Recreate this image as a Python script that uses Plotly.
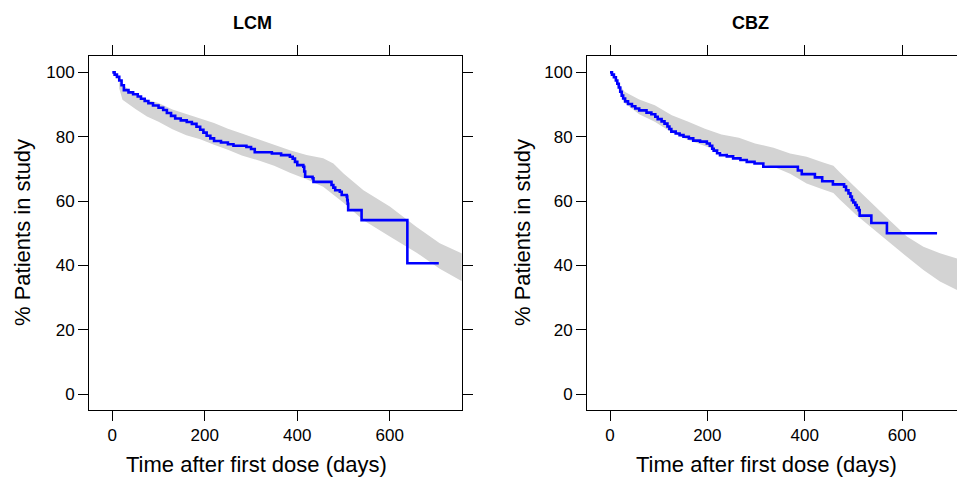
import plotly.graph_objects as go

# ---------------- data ----------------
panel_titles = ["LCM", "CBZ"]

lcm_t = [0, 5, 10, 15, 20, 25, 35, 45, 55, 62, 70, 78, 88, 100, 110, 118, 127, 136, 148, 161,
         172, 182, 190, 197, 204, 212, 220, 235, 250, 262, 290, 300, 308, 345, 365, 384, 390, 395, 400, 413,
         415, 417, 433, 435, 474, 478, 482, 492, 496, 507, 508, 509, 510, 539, 638, 706]
lcm_s = [100, 99.3, 98.6, 97.5, 96, 94.5, 93.8, 93.2, 92.5, 91.8, 91.1, 90.4, 89.7, 89, 88.3, 87.4, 86.5, 85.7, 85.1, 84.6,
         84, 83.1, 82.2, 81.3, 80.3, 79.5, 78.7, 78.2, 77.7, 77.2, 76.8, 76.2, 75.2, 74.8, 74.3, 73.8, 73.2, 72.2, 71.2, 70.7,
         69.2, 67.6, 67.1, 66.0, 65.0, 64.2, 63.4, 62.9, 61.9, 61.4, 60.3, 59.2, 57.2, 54.1, 40.7, 40.7]

lcm_band_t = [15, 22, 30, 50, 75, 100, 130, 160, 190, 220, 250, 280, 320, 350, 384, 420, 456, 478, 500, 543,
              600, 658, 708, 760]
lcm_upper = [97, 96.2, 95, 93, 91.5, 90.5, 88.5, 87, 85.7, 84.3, 82.5, 81, 79, 77.6, 75.8, 74.3, 73.3, 71.7, 68.6, 63.4,
             58.3, 52, 46.9, 43.5]
lcm_lower = [95, 91.5, 90.8, 88.6, 86.3, 84.7, 82.3, 80.5, 79.2, 77.5, 76, 74.2, 72.5, 71, 68.8, 66.8, 64.5, 62, 59.5, 54.1,
             49, 44, 39, 34.8]

cbz_t = [0, 4, 8, 12, 15, 18, 21, 24, 27, 31, 37, 45, 52, 60, 75, 85, 93, 98, 106, 112,
         118, 122, 126, 135, 143, 151, 162, 171, 185, 199, 205, 210, 213, 220, 226, 240, 253, 268, 281, 297,
         315, 386, 394, 421, 436, 458, 481, 485, 490, 494, 497, 500, 504, 507, 511, 513, 537, 569, 672]
cbz_s = [100, 99.3, 98.5, 97.5, 96.5, 95.3, 94, 92.8, 91.9, 91, 90.2, 89.5, 88.8, 88.2, 87.5, 87, 86.2, 85.5, 84.8, 84.1,
         83.2, 82.4, 81.6, 81, 80.5, 80, 79.5, 78.8, 78.5, 77.9, 77.2, 76.3, 75.7, 74.9, 74.3, 73.9, 73.3, 72.8, 72.2, 71.7,
         70.7, 69.5, 68.4, 67.4, 66.2, 65.2, 64.5, 63.4, 62.4, 61.4, 60.3, 59.6, 58.8, 58, 57.2, 55.5, 53.2, 50, 50]

cbz_band_t = [12, 20, 30, 60, 92, 127, 161, 195, 229, 265, 298, 336, 370, 404, 438, 459, 472, 506, 541, 575,
              610, 644, 678, 713, 760]
cbz_upper = [98, 96, 94, 91.6, 89.8, 86.7, 84.7, 82.5, 80.7, 79.7, 77.9, 76.6, 74.8, 73.8, 72, 71, 69, 64, 58.8, 54,
             49, 45.8, 43.8, 42.2, 40]
cbz_lower = [97, 94, 90.5, 87, 84.7, 81.3, 79, 77.1, 75.2, 73.5, 72, 70.7, 68.5, 65.5, 63.6, 62.5, 60.5, 55.7, 51.2, 47,
             42.7, 38.6, 35, 32.4, 29.5]

x_ticks = [0, 200, 400, 600]
y_ticks = [0, 20, 40, 60, 80, 100]
x_title = "Time after first dose (days)"
y_title = "% Patients in study"

# ---------------- figure ----------------
W, H = 957, 478
FONT = "Liberation Sans, Arial, Helvetica, sans-serif"
BAND = "#D3D3D3"
LINE = "#0000FF"

fig = go.Figure()

panels = [
    (lcm_t, lcm_s, lcm_band_t, lcm_upper, lcm_lower, "x", "y"),
    (cbz_t, cbz_s, cbz_band_t, cbz_upper, cbz_lower, "x2", "y2"),
]
for t, s, bt, up, lo, xa, ya in panels:
    fig.add_trace(go.Scatter(
        x=bt + bt[::-1], y=up + lo[::-1], fill="toself", fillcolor=BAND,
        mode="lines", line=dict(width=0, color=BAND), hoverinfo="skip",
        showlegend=False, xaxis=xa, yaxis=ya))
    fig.add_trace(go.Scatter(
        x=t, y=s, mode="lines", line=dict(color=LINE, width=2.6, shape="hv"),
        showlegend=False, xaxis=xa, yaxis=ya))

def px_x(p):
    return p / W

def px_y(p):
    return 1 - p / H

ydom = [px_y(410), px_y(56)]
common = dict(showgrid=False, zeroline=False, showline=True, linecolor="black", linewidth=1,
              ticks="outside", ticklen=10, tickwidth=1, tickcolor="black",
              tickfont=dict(family=FONT, size=17, color="black"))

fig.update_layout(
    width=W, height=H,
    margin=dict(l=0, r=0, t=0, b=0),
    paper_bgcolor="white", plot_bgcolor="white",
    font=dict(family=FONT, color="black"),
    xaxis=dict(domain=[px_x(89), px_x(461.7)], range=[-50.4, 755.5], tickvals=x_ticks,
               mirror="ticks", anchor="y", **common),
    yaxis=dict(domain=ydom, range=[-4.9, 105.1], tickvals=y_ticks, mirror="ticks",
               anchor="x", **common),
    xaxis2=dict(domain=[px_x(587), 1.0], range=[-47.3, 713], tickvals=x_ticks,
                mirror="ticks", anchor="y2", **common),
    yaxis2=dict(domain=ydom, range=[-4.9, 105.1], tickvals=y_ticks, mirror=False,
                anchor="x2", **common),
)

ann = []
for title, cx in zip(panel_titles, [252.5, 750.5]):
    ann.append(dict(text=f"<b>{title}</b>", x=px_x(cx), y=px_y(23), xref="paper", yref="paper",
                    showarrow=False, xanchor="center", yanchor="middle",
                    font=dict(family=FONT, size=18, color="black")))
for cx in [256.7, 766.7]:
    ann.append(dict(text=x_title, x=px_x(cx), y=px_y(464), xref="paper", yref="paper",
                    showarrow=False, xanchor="center", yanchor="middle",
                    font=dict(family=FONT, size=22, color="black")))
for cx in [22, 522]:
    ann.append(dict(text=y_title, x=px_x(cx), y=px_y(233), xref="paper", yref="paper",
                    showarrow=False, xanchor="center", yanchor="middle", textangle=-90,
                    font=dict(family=FONT, size=22, color="black")))
fig.update_layout(annotations=ann)

fig.write_html("out.html", config={"displayModeBar": False},
               post_script="document.body.style.margin='0';document.body.style.overflow='hidden';")
